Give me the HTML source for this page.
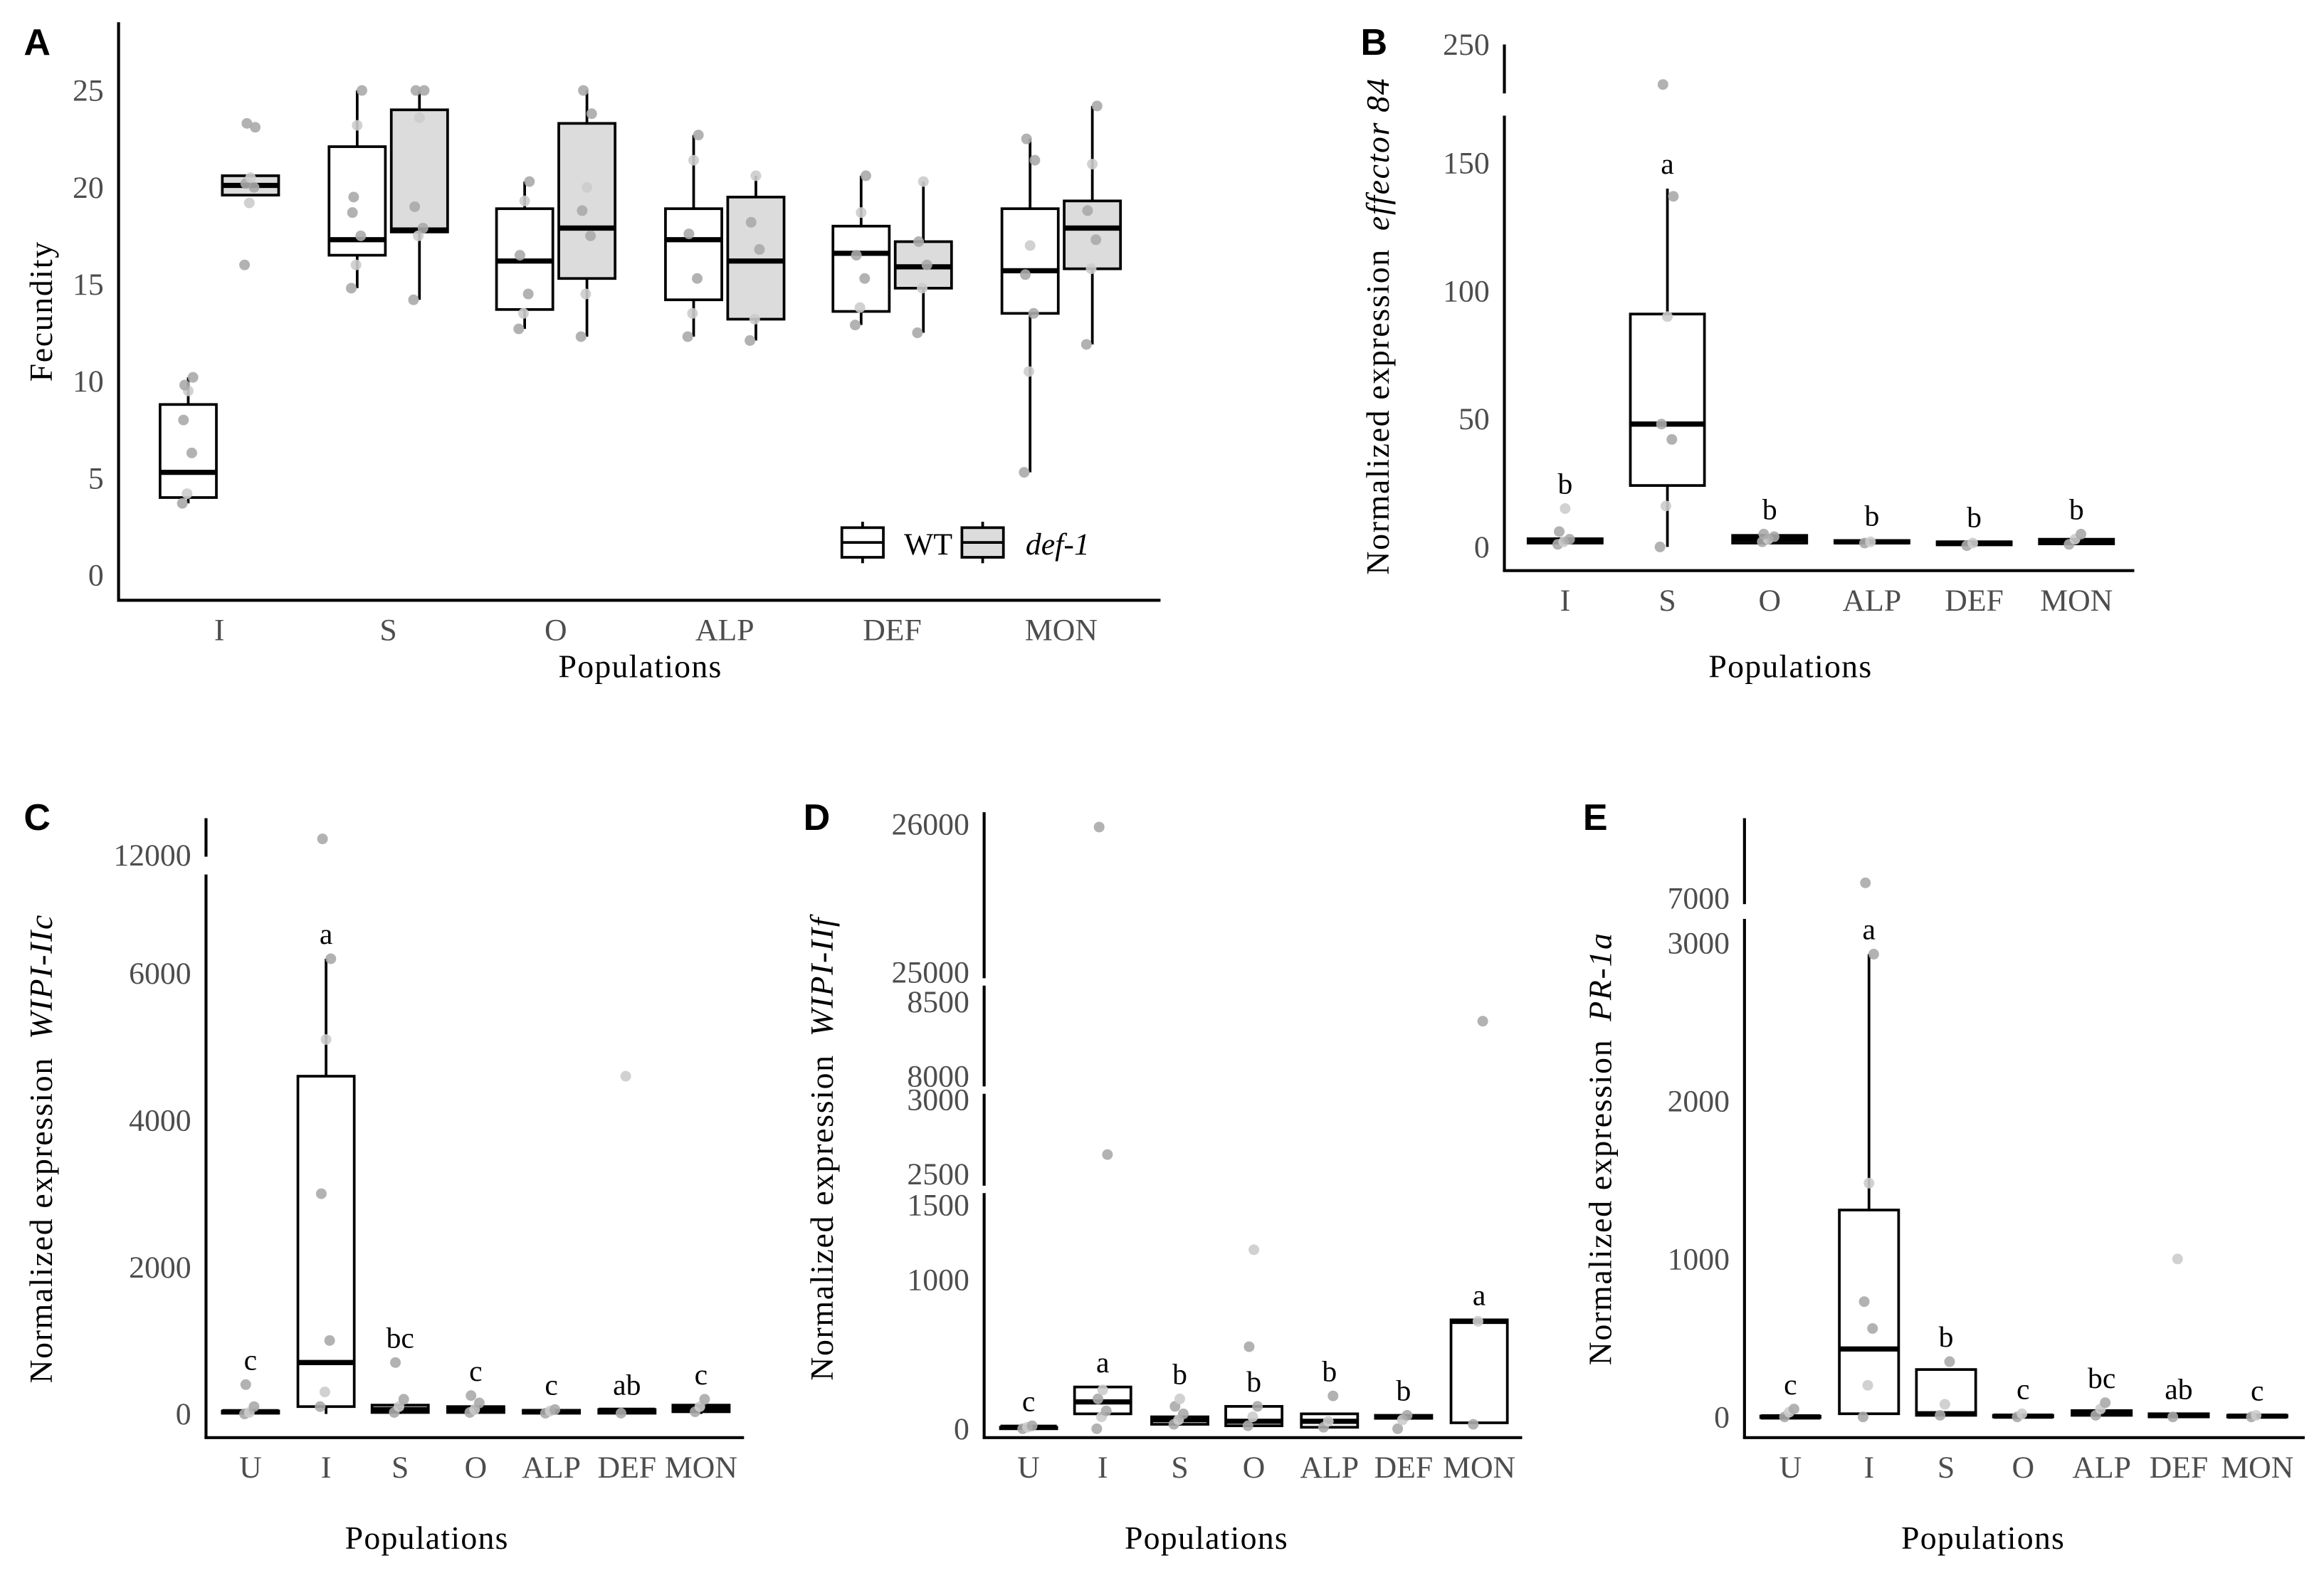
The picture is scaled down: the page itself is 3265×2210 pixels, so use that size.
<!DOCTYPE html>
<html><head><meta charset="utf-8"><style>
html,body{margin:0;padding:0;background:#fff}
svg{display:block}
text{font-family:"Liberation Serif",serif}
text.plabel{font-family:"Liberation Sans",sans-serif;font-weight:bold}
</style></head><body>
<svg id="fig" xmlns="http://www.w3.org/2000/svg" width="3265" height="2210" viewBox="0 0 1568 1061.3">
<rect width="1568" height="1062" fill="#fff"/>
</svg>
<script>
// ===== Panel A data (fecundity) =====
const A_cats=["I","S","O","ALP","DEF","MON"];
const A_wt_lo=[3.7,14.8,12.7,12.3,12.9,5.3];
const A_wt_q1=[4.0,16.5,13.7,14.2,13.6,13.5];
const A_wt_med=[5.3,17.3,16.2,17.3,16.6,15.7];
const A_wt_q3=[8.8,22.1,18.9,18.9,18.0,18.9];
const A_wt_hi=[10.2,25.5,20.3,22.7,20.6,22.5];
const A_df_lo=[19.6,14.2,12.3,12.1,12.5,11.9];
const A_df_q1=[19.6,17.7,15.3,13.2,14.8,15.8];
const A_df_med=[20.1,17.8,17.9,16.2,15.9,17.9];
const A_df_q3=[20.6,24.0,23.3,19.5,17.2,19.3];
const A_df_hi=[20.6,26.0,25.5,20.6,20.3,24.2];
const A_wt_pts=[[3.7,4.2,6.3,8,9.5,10.2,9.8],[14.8,16,17.5,18.7,23.2,25.5,19.5],[12.7,13.5,14.5,16.5,19.3,20.3],[12.3,13.5,15.3,17.6,21.4,22.7],[12.9,13.8,15.3,16.5,18.7,20.6],[5.3,10.5,13.5,15.5,17,21.4,22.5]];
const A_df_pts=[[16,19.2,20,20.2,20.5,23.1,23.3],[14.2,17.5,17.9,19,23.6,25.5,26]];
A_df_pts.push([12.3,14.5,17.5,18.8,20,23.8,25.5],[12.1,13.2,16.8,18.2,20.6],[12.5,14.8,16,17.2,20.3],[11.9,15.8,17.3,18.8,21.2,24.2]);
const A_ticks=[0,5,10,15,20,25];
// ===== Panel B =====
const B_cats=["I","S","O","ALP","DEF","MON"];
const B_q1=[1.5,24,1.5,1.5,0.8,1.2];
const B_med=[2.5,48,3,2,1.5,2];
const B_q3=[3.2,91,4.5,2.5,2,3];
const B_lo=[1,0,1,1,0.5,0.8];
const B_hi=[3.2,140,4.5,2.5,2,3];
const B_pts=[[1,2,3,6,15],[0,16,42,48,90,137,187],[2,3,4,5],[1.5,2],[0.5,1.5],[1,3,5]];
const B_letters=["b","a","b","b","b","b"];
const B_ticks=[0,50,100,150,250];
// ===== Panel C =====
const C_cats=["U","I","S","O","ALP","DEF","MON"];
const C_q1=[10,100,20,20,10,10,30];
const C_med=[30,700,60,70,30,50,80];
const C_q3=[40,4600,120,100,50,60,120];
const C_hi=[40,6200,120,100,50,60,120];
const C_pts=[[0,20,100,400],[100,300,1000,3000,5100,6200,12400],[20,100,200,700],[20,60,150,250],[10,40,60],[10,4600],[30,100,200]];
const C_letters=["c","a","bc","c","c","ab","c"];
const C_ticks=[0,2000,4000,6000,12000];
// ===== Panel D =====
const D_cats=["U","I","S","O","ALP","DEF","MON"];
const D_q1=[10,100,30,20,10,70,40];
const D_med=[10,180,60,50,50,80,720];
const D_q3=[10,280,80,150,100,90,730];
const D_hi=[10,280,80,150,100,90,730];
const D_pts=[[0,10,20],[0,80,120,200,260,2630,25980],[30,60,100,150,200],[20,80,150,550,1200],[10,50,220],[0,60,90],[30,720,8370]];
const D_letters=["c","a","b","b","b","b","a"];
const D_ticks=[0,1000,1500,2500,3000,8000,8500,25000,26000];
// ===== Panel E =====
const E_cats=["U","I","S","O","ALP","DEF","MON"];
const E_q1=[0,20,10,0,10,0,0];
const E_med=[0,430,20,5,30,10,5];
const E_q3=[5,1310,300,10,40,20,10];
const E_hi=[5,2930,300,10,40,20,10];
const E_pts=[[0,30,50],[0,200,560,730,1480,2930,7600],[10,80,350],[0,20],[10,50,90],[0,1000],[0,10]];
const E_letters=["c","a","b","c","bc","ab","c"];
const E_ticks=[0,1000,2000,3000,7000];

const svg=document.getElementById('fig');
const NS="http://www.w3.org/2000/svg";
function el(tag,attrs,parent,txt){const e=document.createElementNS(NS,tag);for(const k in attrs)e.setAttribute(k,attrs[k]);if(txt!==undefined)e.textContent=txt;(parent||svg).appendChild(e);return e;}
function mkScale(segs){return v=>{for(const s of segs){if(v>=s[0]&&v<=s[1])return s[2]+(v-s[0])*(s[3]-s[2])/(s[1]-s[0]);}
 let best=segs[0];for(const s of segs){if(v>s[1])best=s;}return v<segs[0][0]?segs[0][2]:best[3];};}

function panel(cfg){
 const g=el('g',{});
 
 
 const pl=el('text',{x:cfg.lx,y:cfg.ly,'font-size':25,'class':'plabel'},g,cfg.label);
 
 for(const s of cfg.axisSegs){const l=el('line',{x1:cfg.x0,x2:cfg.x0,y1:s[0],y2:s[1],stroke:'#000','stroke-width':2},g);
  }
 const xl=el('line',{x1:cfg.x0-1,x2:cfg.x1,y1:cfg.yAxis,y2:cfg.yAxis,stroke:'#000','stroke-width':2},g);
 
 const ys=cfg.ys;
 for(const t of cfg.ticks){const tt=el('text',{x:cfg.x0-10,y:ys(t)+7,'text-anchor':'end','font-size':21,fill:'#4d4d4d'},g,String(t));
  }
 cfg.cats.forEach((c,i)=>{const t=el('text',{x:cfg.cx[i],y:cfg.yAxis+27,'text-anchor':'middle','font-size':21,fill:'#4d4d4d'},g,c);
  });
 const xt=el('text',{x:cfg.xtx,y:cfg.xty,'text-anchor':'middle','font-size':22,'letter-spacing':0.6},g,'Populations');
 
 const yt=el('text',{transform:`translate(${cfg.ytx},${cfg.yty}) rotate(-90)`,'text-anchor':'middle','font-size':22,'letter-spacing':0.8},g);
 
 el('tspan',{},yt,cfg.ytitle);
 if(cfg.ygene){el('tspan',{'font-style':'italic',dx:12},yt,cfg.ygene);}
 return g;
}
function box(g,cx,w,lo,q1,med,q3,hi,ys,fill,name){
 const b=el('g',{},g);
 
 el('line',{x1:cx,x2:cx,y1:ys(hi),y2:ys(q3),stroke:'#000','stroke-width':1.8},b);
 el('line',{x1:cx,x2:cx,y1:ys(q1),y2:ys(lo),stroke:'#000','stroke-width':1.8},b);
 el('rect',{x:cx-w/2,y:ys(q3),width:w,height:Math.max(ys(q1)-ys(q3),1),fill:fill,stroke:'#000','stroke-width':1.8},b);
 el('line',{x1:cx-w/2,x2:cx+w/2,y1:ys(med),y2:ys(med),stroke:'#000','stroke-width':3.5},b);
}
function pts(g,cx,arr,ys,spread){
 arr.forEach((v,j)=>{const dx=((j*37)%11-5)/5*spread;
  const p=el('circle',{cx:cx+dx,cy:ys(v),r:3.6,fill:j%3===1?'#cccccc':'#aaaaaa','fill-opacity':0.9},g);
  });
}
function letters(g,cx,arr,yv,ys){arr.forEach((L,i)=>{const t=el('text',{x:cx[i],y:ys(yv[i])-10,'text-anchor':'middle','font-size':20},g,L);
 });}

// ---- Panel A ----
{const ys=mkScale([[0,25,388,61]]);
 const cx=[148,262,375,489,602,716];
 const g=panel({name:'panel-a',label:'A',lx:16,ly:37,x0:80,x1:783,yAxis:405,axisSegs:[[15,405]],ys,ticks:A_ticks,cats:A_cats,cx,xtx:432,xty:457,ytx:35,yty:210,ytitle:'Fecundity'});
 A_cats.forEach((c,i)=>{
  box(g,cx[i]-21,38,A_wt_lo[i],A_wt_q1[i],A_wt_med[i],A_wt_q3[i],A_wt_hi[i],ys,'#fff','box-wt-'+c.toLowerCase());
  box(g,cx[i]+21,38,A_df_lo[i],A_df_q1[i],A_df_med[i],A_df_q3[i],A_df_hi[i],ys,'#dcdcdc','box-def1-'+c.toLowerCase());
  pts(g,cx[i]-21,A_wt_pts[i],ys,4);pts(g,cx[i]+21,A_df_pts[i],ys,4);
 });
 const lg=el('g',{},g);
 el('line',{x1:582,x2:582,y1:352,y2:380,stroke:'#000','stroke-width':1.8},lg);
 el('rect',{x:568,y:356,width:28,height:20,fill:'#fff',stroke:'#000','stroke-width':1.8},lg);
 el('line',{x1:568,x2:596,y1:366,y2:366,stroke:'#000','stroke-width':1.8},lg);
 el('text',{x:610,y:374,'font-size':21},lg,'WT');
 el('line',{x1:663,x2:663,y1:352,y2:380,stroke:'#000','stroke-width':1.8},lg);
 el('rect',{x:649,y:356,width:28,height:20,fill:'#dcdcdc',stroke:'#000','stroke-width':1.8},lg);
 el('line',{x1:649,x2:677,y1:366,y2:366,stroke:'#000','stroke-width':1.8},lg);
 el('text',{x:692,y:374,'font-size':21,'font-style':'italic'},lg,'def-1');
}
// ---- Panel B ----
{const ys=mkScale([[0,150,369,110],[150,250,110,30]]);
 const ysd=v=>v<=160?ys(v):57-(v-187)*0.8;
 const yst=v=>v===250?30:ys(v);
 const cx=[1056,1125,1194,1263,1332,1401];
 const g=panel({name:'panel-b',label:'B',lx:918,ly:37,x0:1015,x1:1440,yAxis:385,axisSegs:[[30,63],[78,385]],ys:yst,ticks:B_ticks,cats:B_cats,cx,xtx:1208,xty:457,ytx:937,yty:220,ytitle:'Normalized expression',ygene:'effector 84'});
 B_cats.forEach((c,i)=>{box(g,cx[i],50,B_lo[i],B_q1[i],B_med[i],B_q3[i],B_hi[i],ys,'#fff','box-'+c.toLowerCase());pts(g,cx[i],B_pts[i],ysd,5);});
 const top=B_cats.map((c,i)=>Math.max(B_hi[i],...B_pts[i].filter(v=>v<160)));
 letters(g,cx,B_letters,top,ys);
}
// ---- Panel C ----
{const ys=mkScale([[0,6500,954,632],[11000,13000,587,557]]);
 const yst=v=>v===12000?577:ys(v);
 const cx=[169,220,270,321,372,423,473];
 const g=panel({name:'panel-c',label:'C',lx:16,ly:560,x0:139,x1:502,yAxis:970,axisSegs:[[552,578],[590,970]],ys:yst,ticks:C_ticks,cats:C_cats,cx,xtx:288,xty:1045,ytx:35,yty:775,ytitle:'Normalized expression',ygene:'WIPI-IIc'});
 C_cats.forEach((c,i)=>{box(g,cx[i],38,C_q1[i]===C_q3[i]?C_q1[i]:Math.min(C_q1[i],0),C_q1[i],C_med[i],C_q3[i],C_hi[i],ys,'#fff','box-'+c.toLowerCase());pts(g,cx[i],C_pts[i],ys,4);});
 const top=C_cats.map((c,i)=>Math.max(C_hi[i],...C_pts[i].filter(v=>v<4000)));
 letters(g,cx,C_letters,top,ys);
}
// ---- Panel D ----
{const ys=mkScale([[0,1500,964,813],[2500,3000,792,742],[8000,8500,726,676],[25000,26000,656,556]]);
 const cx=[694,744,796,846,897,947,998];
 const g=panel({name:'panel-d',label:'D',lx:542,ly:560,x0:664,x1:1027,yAxis:970,axisSegs:[[548,660],[665,733],[738,800],[805,970]],ys,ticks:D_ticks,cats:D_cats,cx,xtx:814,xty:1045,ytx:562,yty:775,ytitle:'Normalized expression',ygene:'WIPI-IIf'});
 D_cats.forEach((c,i)=>{box(g,cx[i],38,D_q1[i],D_q1[i],D_med[i],D_q3[i],D_hi[i],ys,'#fff','box-'+c.toLowerCase());pts(g,cx[i],D_pts[i],ys,4);});
 const top=D_cats.map((c,i)=>Math.max(D_hi[i],...D_pts[i].filter(v=>v<500)));
 letters(g,cx,D_letters,top,ys);
}
// ---- Panel E ----
{const ys=mkScale([[0,3200,956,615],[6800,8000,627,580]]);
 const yst=v=>v===7000?606:ys(v);
 const cx=[1208,1261,1313,1365,1418,1470,1523];
 const g=panel({name:'panel-e',label:'E',lx:1068,ly:560,x0:1177,x1:1555,yAxis:970,axisSegs:[[552,610],[620,970]],ys:yst,ticks:E_ticks,cats:E_cats,cx,xtx:1338,xty:1045,ytx:1087,yty:775,ytitle:'Normalized expression',ygene:'PR-1a'});
 E_cats.forEach((c,i)=>{box(g,cx[i],40,E_q1[i],E_q1[i],E_med[i],E_q3[i],E_hi[i],ys,'#fff','box-'+c.toLowerCase());pts(g,cx[i],E_pts[i],ys,4);});
 const top=E_cats.map((c,i)=>Math.max(E_hi[i],...E_pts[i].filter(v=>v<900)));
 letters(g,cx,E_letters,top,ys);
}
</script>
</body></html>
